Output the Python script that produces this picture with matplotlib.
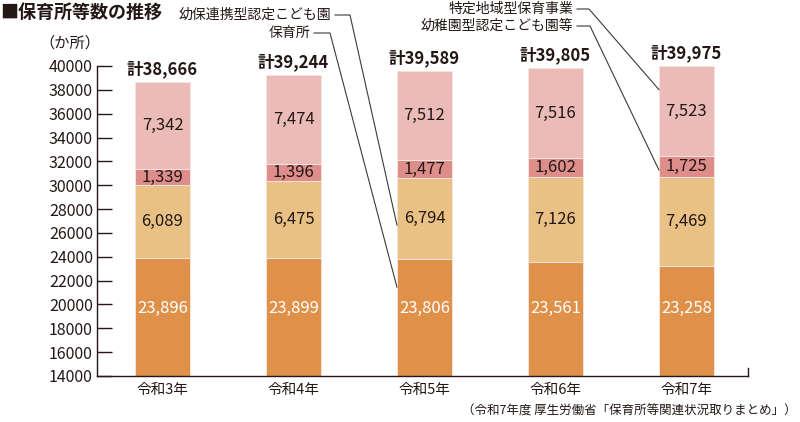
import matplotlib
matplotlib.use("Agg")
import matplotlib.pyplot as plt
from matplotlib.lines import Line2D
import numpy as np

plt.rcParams['font.family'] = ['Noto Sans CJK JP', 'DejaVu Sans']

years = ["令和3年", "令和4年", "令和5年", "令和6年", "令和7年"]
hoikusho = [23896, 23899, 23806, 23561, 23258]          # 保育所
yoho = [6089, 6475, 6794, 7126, 7469]                    # 幼保連携型認定こども園
yochien = [1339, 1396, 1477, 1602, 1725]                 # 幼稚園型認定こども園等
tokutei = [7342, 7474, 7512, 7516, 7523]                 # 特定地域型保育事業
yticks = list(range(14000, 40001, 2000))

series = [hoikusho, yoho, yochien, tokutei]
colors = ["#E09149", "#E9C184", "#DE8D8A", "#EBBBB7"]
ink = "#231815"

W, H = 800, 422
fig = plt.figure(figsize=(W / 100, H / 100), dpi=100)
ax = fig.add_axes([97 / W, 1 - 376 / H, (748 - 97) / W, (376 - 66) / H])

x = np.arange(len(years))
width = 0.42
bottoms = np.zeros(len(years))
for vals, col in zip(series, colors):
    ax.bar(x, vals, width, bottom=bottoms, color=col, edgecolor="#F6E3DC", linewidth=0.7, zorder=2)
    bottoms = bottoms + np.array(vals)

ax.set_ylim(14000, 40000)
ax.set_xlim(-0.5, 4.47)
ax.set_yticks(yticks)
ax.set_yticklabels([str(t) for t in yticks], fontsize=11.5, color=ink)
ax.tick_params(axis="y", direction="in", length=11, width=1, color=ink, pad=3)
ax.set_xticks(x)
ax.set_xticklabels(years, fontsize=10.5, color=ink)
ax.tick_params(axis="x", length=0, pad=5)
for s in ["top", "right"]:
    ax.spines[s].set_visible(False)
for s in ["left", "bottom"]:
    ax.spines[s].set_color(ink)
    ax.spines[s].set_linewidth(1)
ax.axvline(ax.get_xlim()[1], ymin=0, ymax=0.027, color=ink, lw=1, clip_on=False)

# segment labels
for i in range(len(years)):
    ax.text(x[i], 19650, f"{hoikusho[i]:,}", ha="center", va="center", fontsize=12, color="white", zorder=3)
    b = hoikusho[i]
    for vals in series[1:]:
        ax.text(x[i], b + vals[i] / 2, f"{vals[i]:,}", ha="center", va="center", fontsize=12, color=ink, zorder=3)
        b += vals[i]
    ax.annotate(f"計{b:,}", xy=(x[i], b), xytext=(0, 3), textcoords="offset points",
                ha="center", va="bottom", fontsize=12, fontweight="bold", color=ink)

# titles
fig.text(0 / W, 1 - 12 / H, "■保育所等数の推移", fontsize=13, fontweight="bold", color=ink, ha="left", va="center")
fig.text(70 / W, 1 - 43 / H, "（か所）", fontsize=11, color=ink, ha="center", va="center")
fig.text(797 / W, 1 - 411 / H, "（令和7年度 厚生労働省「保育所等関連状況取りまとめ」）", fontsize=9, color=ink,
         ha="right", va="center")

# leader labels
def px2fig(px, py):
    return px / W, 1 - py / H

def leader(label, tx, ty, hx0, hx1, bar_i, yval):
    fig.text(*px2fig(tx, ty), label, fontsize=10, color=ink, ha="right", va="center")
    disp = ax.transData.transform((x[bar_i] - width / 2, yval))
    ex, ey = fig.transFigure.inverted().transform(disp)
    p0 = px2fig(hx0, ty)
    p1 = px2fig(hx1, ty)
    fig.add_artist(Line2D([p0[0], p1[0], ex], [p0[1], p1[1], ey], transform=fig.transFigure,
                          color="#3a3a3a", lw=0.8))

leader("幼保連携型認定こども園", 331, 15, 335, 350, 2, hoikusho[2] + yoho[2] * 0.42)
leader("保育所", 310, 33, 314, 330, 2, 14000 + (hoikusho[2] - 14000) * 0.76)
leader("特定地域型保育事業", 573, 9, 577, 589, 4,
       hoikusho[4] + yoho[4] + yochien[4] + tokutei[4] * 0.74)
leader("幼稚園型認定こども園等", 573, 26, 577, 590, 4, hoikusho[4] + yoho[4] + yochien[4] * 0.32)

fig.savefig("out.png", dpi=100)
